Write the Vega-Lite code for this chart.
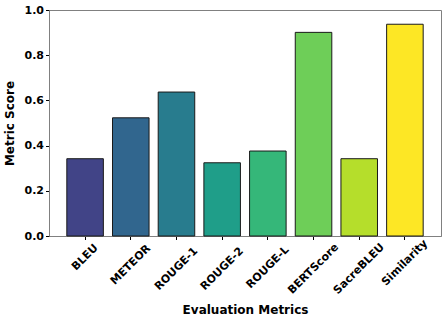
{
  "$schema": "https://vega.github.io/schema/vega-lite/v6.json",
  "width": 392,
  "height": 226,
  "autosize": "none",
  "padding": {"left": 49, "top": 10, "right": 7, "bottom": 86},
  "background": "white",
  "config": {
    "font": "DejaVu Sans",
    "view": {"stroke": "#808080", "strokeWidth": 1}
  },
  "data": {
    "values": [
      {"metric": "BLEU", "score": 0.342, "color": "#414487"},
      {"metric": "METEOR", "score": 0.523, "color": "#31668e"},
      {"metric": "ROUGE-1", "score": 0.637, "color": "#287c8e"},
      {"metric": "ROUGE-2", "score": 0.324, "color": "#1f9e89"},
      {"metric": "ROUGE-L", "score": 0.376, "color": "#35b779"},
      {"metric": "BERTScore", "score": 0.901, "color": "#6ece58"},
      {"metric": "SacreBLEU", "score": 0.342, "color": "#b5de2b"},
      {"metric": "Similarity", "score": 0.937, "color": "#fde725"}
    ]
  },
  "mark": {"type": "bar", "stroke": "#1a1a1a", "strokeWidth": 1},
  "encoding": {
    "x": {
      "field": "metric",
      "type": "nominal",
      "sort": null,
      "scale": {"paddingInner": 0.2, "paddingOuter": 0.39},
      "axis": {
        "title": "Evaluation Metrics",
        "titleFont": "DejaVu Sans",
        "titleFontSize": 12,
        "titleFontWeight": "bold",
        "titleColor": "black",
        "titlePadding": 9,
        "labelAngle": -45,
        "labelAlign": "center",
        "labelBaseline": "middle",
        "labelFont": "DejaVu Sans",
        "labelFontSize": 11,
        "labelFontWeight": "bold",
        "labelColor": "black",
        "labelPadding": {
          "condition": [
            {"test": "datum.value === 'BLEU'", "value": 17.5},
            {"test": "datum.value === 'METEOR'", "value": 25},
            {"test": "datum.value === 'ROUGE-L'", "value": 27.5},
            {"test": "datum.value === 'Similarity'", "value": 23}
          ],
          "value": 29
        },
        "tickColor": "black",
        "tickSize": 3.5,
        "domainColor": "#808080"
      }
    },
    "y": {
      "field": "score",
      "type": "quantitative",
      "scale": {"domain": [0, 1], "nice": false},
      "axis": {
        "title": "Metric Score",
        "titleFont": "DejaVu Sans",
        "titleFontSize": 12,
        "titleFontWeight": "bold",
        "titleColor": "black",
        "titlePadding": 8,
        "values": [0, 0.2, 0.4, 0.6, 0.8, 1.0],
        "format": ".1f",
        "labelFont": "DejaVu Sans",
        "labelFontSize": 11,
        "labelFontWeight": "bold",
        "labelColor": "black",
        "labelPadding": 2,
        "tickColor": "black",
        "tickSize": 3.5,
        "grid": false,
        "domainColor": "#808080"
      }
    },
    "fill": {"field": "color", "type": "nominal", "scale": null, "legend": null}
  }
}
